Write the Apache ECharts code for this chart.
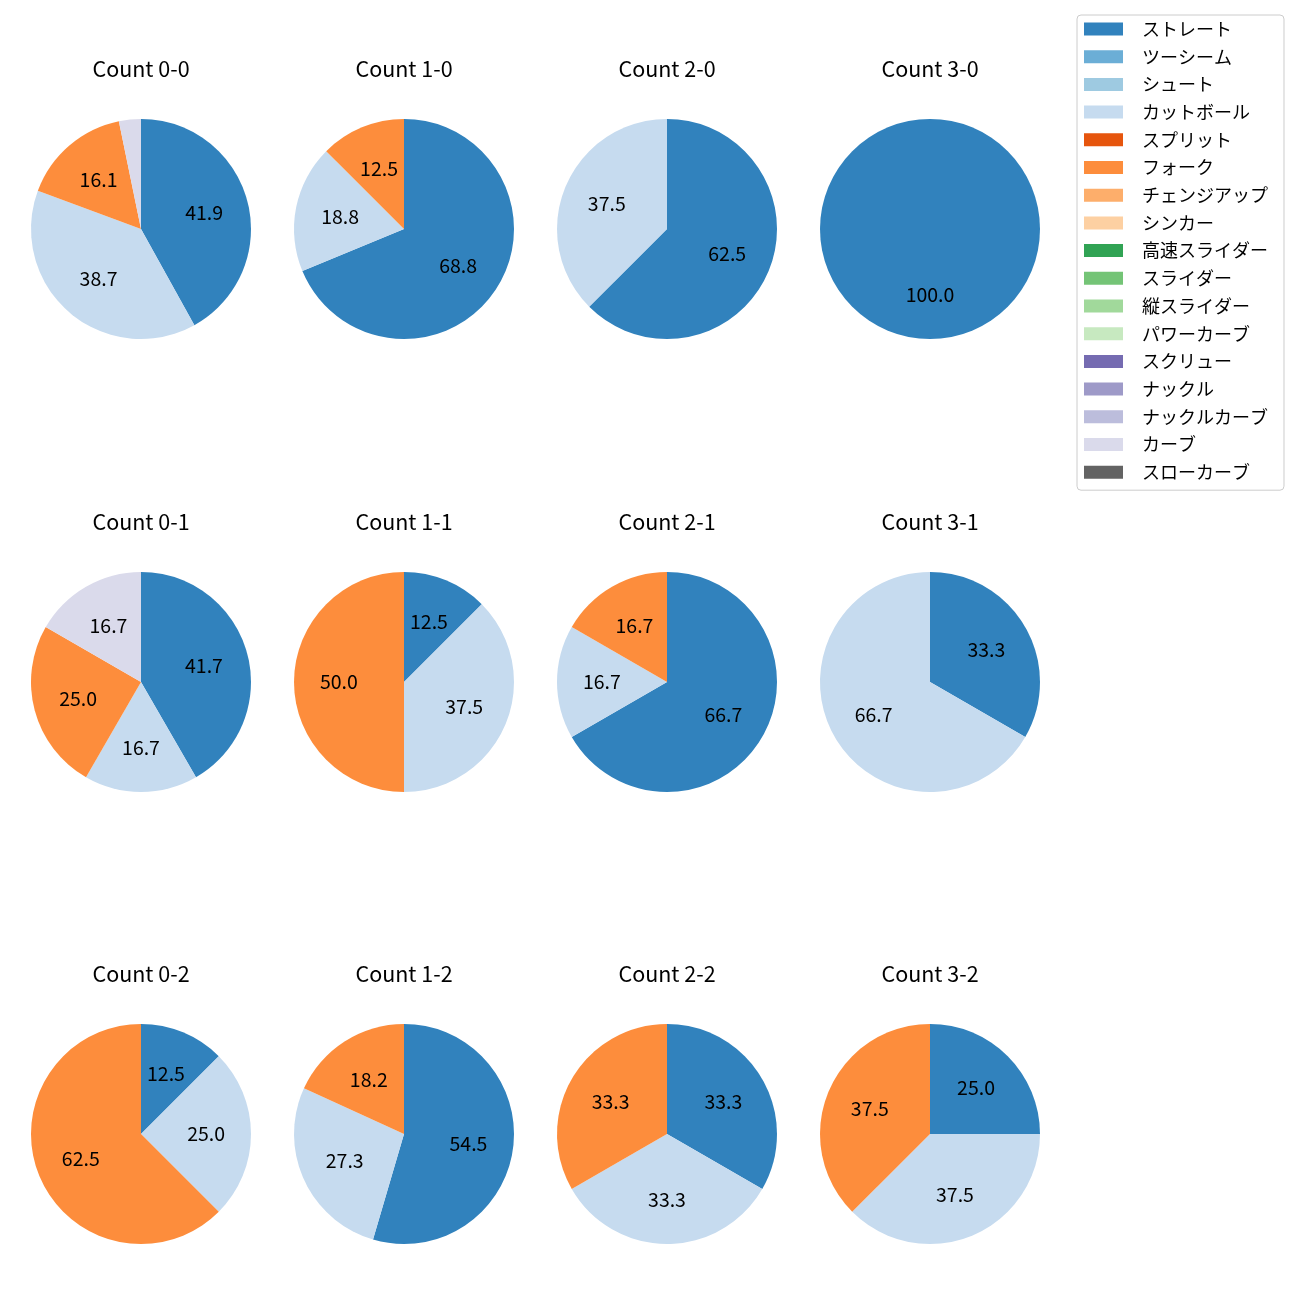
<!DOCTYPE html>
<html>
<head>
<meta charset="utf-8">
<script src="https://cdn.jsdelivr.net/npm/echarts@6/dist/echarts.min.js"></script>
<style>html,body{margin:0;padding:0;background:#fff}#c{width:1300px;height:1300px}</style>
</head>
<body>
<div id="c"></div>
<script>
const categories = ['ストレート','ツーシーム','シュート','カットボール','スプリット','フォーク','チェンジアップ','シンカー','高速スライダー','スライダー','縦スライダー','パワーカーブ','スクリュー','ナックル','ナックルカーブ','カーブ','スローカーブ'];
const colors = ['#3182bd','#6baed6','#9ecae1','#c6dbef','#e6550d','#fd8d3c','#fdae6b','#fdd0a2','#31a354','#74c476','#a1d99b','#c7e9c0','#756bb1','#9e9ac8','#bcbddc','#dadaeb','#636363'];
const titles = ['Count 0-0','Count 1-0','Count 2-0','Count 3-0','Count 0-1','Count 1-1','Count 2-1','Count 3-1','Count 0-2','Count 1-2','Count 2-2','Count 3-2'];
// pitch counts per category (same order as categories)
const count00 = [13,0,0,12,0,5,0,0,0,0,0,0,0,0,0,1,0];
const count10 = [11,0,0,3,0,2,0,0,0,0,0,0,0,0,0,0,0];
const count20 = [5,0,0,3,0,0,0,0,0,0,0,0,0,0,0,0,0];
const count30 = [1,0,0,0,0,0,0,0,0,0,0,0,0,0,0,0,0];
const count01 = [5,0,0,2,0,3,0,0,0,0,0,0,0,0,0,2,0];
const count11 = [1,0,0,3,0,4,0,0,0,0,0,0,0,0,0,0,0];
const count21 = [4,0,0,1,0,1,0,0,0,0,0,0,0,0,0,0,0];
const count31 = [1,0,0,2,0,0,0,0,0,0,0,0,0,0,0,0,0];
const count02 = [1,0,0,2,0,5,0,0,0,0,0,0,0,0,0,0,0];
const count12 = [6,0,0,3,0,2,0,0,0,0,0,0,0,0,0,0,0];
const count22 = [1,0,0,1,0,1,0,0,0,0,0,0,0,0,0,0,0];
const count32 = [2,0,0,3,0,3,0,0,0,0,0,0,0,0,0,0,0];
const allCounts = [count00,count10,count20,count30,count01,count11,count21,count31,count02,count12,count22,count32];

const FONT = '"Noto Sans CJK JP", "Noto Sans", sans-serif';
const colX = [141, 404, 667, 930];
const rowY = [229, 682, 1134];
const R = 110;

const pieSeries = [];
const labelSeries = [];
const graphics = [];
allCounts.forEach((vals, i) => {
  const cx = colX[i % 4], cy = rowY[Math.floor(i / 4)];
  const total = vals.reduce((a, b) => a + b, 0);
  const data = categories.map((n, k) => ({ name: n, value: vals[k], itemStyle: { color: colors[k] } }));
  pieSeries.push({
    type: 'pie', center: [cx, cy], radius: [0, R], startAngle: 90, clockwise: true,
    avoidLabelOverlap: false, silent: true, animation: false,
    itemStyle: { borderWidth: 0 },
    label: { show: false }, labelLine: { show: false },
    emphasis: { disabled: true },
    data: data
  });
  labelSeries.push({
    type: 'pie', center: [cx, cy], radius: [0, R * 1.13], startAngle: 90, clockwise: true,
    avoidLabelOverlap: false, silent: true, animation: false,
    itemStyle: { color: 'rgba(0,0,0,0)', borderWidth: 0 },
    labelLine: { show: false },
    emphasis: { disabled: true },
    label: {
      show: true, position: 'inside', color: '#000', fontSize: 19.5, fontFamily: FONT,
      formatter: (p) => {
        const pct = vals[p.dataIndex] / total * 100;
        return pct >= 5 ? pct.toFixed(1) : '';
      }
    },
    data: categories.map((n, k) => ({ name: n + ' ', value: vals[k] }))
  });
  graphics.push({
    type: 'text', x: cx, y: cy - 160,
    style: { text: titles[i], fill: '#000', font: '21.5px ' + FONT, textAlign: 'center', textVerticalAlign: 'middle' }
  });
});

const chart = echarts.init(document.getElementById('c'), null, { renderer: 'canvas' });
chart.setOption({
  animation: false,
  legend: {
    data: categories, orient: 'vertical', left: 1077, top: 15,
    padding: [5, 16, 9, 7], itemWidth: 39, itemHeight: 13, itemGap: 9.7,
    borderColor: '#cccccc', borderWidth: 1, borderRadius: 4,
    icon: 'rect', selectedMode: false,
    textStyle: { fontSize: 18, fontFamily: FONT, color: '#000', padding: [0, 0, 0, 14] }
  },
  graphic: graphics,
  series: pieSeries.concat(labelSeries)
});
</script>
</body>
</html>
